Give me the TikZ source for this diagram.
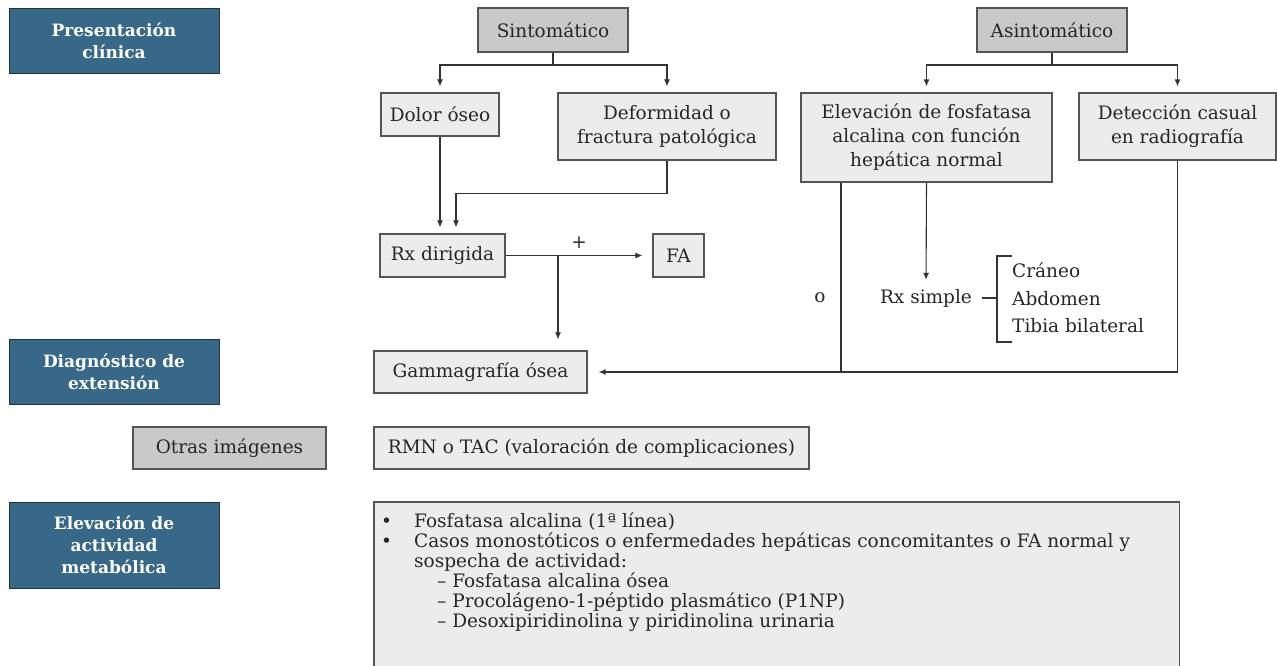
\documentclass[tikz,border=0pt]{standalone}
\usepackage{fontspec}
\setmainfont{DejaVu Serif}
\usetikzlibrary{arrows.meta, positioning}

\definecolor{labblue}{HTML}{386887}
\definecolor{labedge}{HTML}{22323C}
\definecolor{boxfill}{HTML}{EBECEB}
\definecolor{hdrfill}{HTML}{C9C9C9}
\definecolor{edgegray}{HTML}{555555}
\definecolor{linegray}{HTML}{333333}

\begin{document}
\begin{tikzpicture}[x=1pt, y=-1pt,
  lab/.style={rectangle, draw=labedge, fill=labblue, text=white, line width=1pt, minimum width=210pt, inner sep=0pt, align=center, font=\fontsize{17}{22}\selectfont\bfseries},
  box/.style={rectangle, draw=edgegray, fill=boxfill, line width=1.2pt, inner sep=0pt, align=center, text=black!85, font=\fontsize{18.5}{24}\selectfont},
  hdr/.style={box, fill=hdrfill},
  plain/.style={inner sep=0pt, text=black!85, font=\fontsize{18.5}{24}\selectfont},
  arrow/.style={-{Latex[length=7pt,width=6pt]}, draw=linegray, line width=1.1pt, shorten >=6pt},
  link/.style={draw=linegray, line width=1.1pt}
]
\useasboundingbox (0,0) rectangle (1277,665);

% Row labels (left column)
\node[lab, minimum height=65pt] (pres) at (114,40.5) {Presentación\\clínica};
\node[lab, minimum height=65pt] (diag) at (114,371.5) {Diagnóstico de\\extensión};
\node[lab, minimum height=86pt] (metab) at (114,545) {Elevación de\\actividad\\metabólica};
\node[hdr, minimum width=193pt, minimum height=42pt] (otras) at (229.5,448) {Otras imágenes};

% Sintomatico branch
\node[hdr, minimum width=150pt, minimum height=44pt] (sint) at (553,30) {Sintomático};
\node[box, minimum width=118pt, minimum height=43pt] (dolor) at (440,114.5) {Dolor óseo};
\node[box, minimum width=218pt, minimum height=67pt] (deform) at (667,126.5) {Deformidad o\\fractura patológica};
\node[box, minimum width=125pt, minimum height=43pt] (rx) at (442.5,255.5) {Rx dirigida};
\node[box, minimum width=51pt, minimum height=43pt] (fa) at (678.5,255.5) {FA};

% Asintomatico branch
\node[hdr, minimum width=150pt, minimum height=44pt] (asint) at (1052,30) {Asintomático};
\node[box, minimum width=251pt, minimum height=89pt] (elev) at (926.5,137.5) {Elevación de fosfatasa\\alcalina con función\\hepática normal};
\node[box, minimum width=197pt, minimum height=67pt] (detec) at (1177.5,126.5) {Detección casual\\en radiografía};
\node[plain] (rxs) at (926,298) {Rx simple};
\node[plain] (or) at (820,298) {o};
\node[plain, anchor=west, align=left, font=\fontsize{18.5}{27.5}\selectfont] (parts) at (1012,298) {Cráneo\\Abdomen\\Tibia bilateral};

% Extension and other images
\node[box, minimum width=213pt, minimum height=42pt] (gamma) at (480.5,372) {Gammagrafía ósea};
\node[box, minimum width=435pt, minimum height=42pt] (rmn) at (591.5,448) {RMN o TAC (valoración de complicaciones)};

% Metabolic activity list
\node[box, draw=none, anchor=north west, minimum width=804pt, minimum height=163pt] (lstbox) at (374,502) {};
\draw[draw=edgegray, line width=1.2pt] (lstbox.south west) |- (lstbox.north east) -- (lstbox.south east);
\node[plain, anchor=north west, align=left, font=\fontsize{18.5}{20}\selectfont] (lst) at (381,512) {%
\makebox[33pt][l]{•}Fosfatasa alcalina (1ª línea)\\
\makebox[33pt][l]{•}Casos monostóticos o enfermedades hepáticas concomitantes o FA normal y\\
\hspace*{33pt}sospecha de actividad:\\
\hspace*{56pt}– Fosfatasa alcalina ósea\\
\hspace*{56pt}– Procolágeno-1-péptido plasmático (P1NP)\\
\hspace*{56pt}– Desoxipiridinolina y piridinolina urinaria};

% Arrows - sintomatico
\coordinate (sj) at (553,65);
\draw[link] (sint.south) -- (sj);
\draw[arrow] (sj) -| (dolor.north);
\draw[arrow] (sj) -| (deform.north);
\draw[arrow] (dolor.south) -- (dolor.south |- rx.north);
\draw[arrow] (deform.south) -- ++(0,33) -| ([xshift=13.5pt]rx.north);
\draw[arrow, shorten >=10pt] (rx.east) -- (fa.west) node[midway, above=6pt, plain] {+};
\coordinate (rj) at (558,255.5);
\draw[arrow, shorten >=11pt] (rj) -- (rj |- gamma.north);

% Arrows - asintomatico
\coordinate (aj) at (1052,65);
\draw[link] (asint.south) -- (aj);
\draw[arrow] (aj) -| (elev.north);
\draw[arrow] (aj) -| (detec.north);
\draw[arrow, shorten >=9pt] (elev.south) -- (rxs.north);
\draw[link] ([xshift=-85.5pt]elev.south) -- ++(0,190);
\draw[arrow, shorten >=11pt] (detec.south) |- (gamma.east);

% Rx simple bracket
\coordinate (brk) at (997,298);
\draw[link] ([xshift=10pt]rxs.east) -- (brk);
\draw[link] (brk) ++(15,-42) -- ++(-15,0) -- ++(0,86) -- ++(15,0);

\end{tikzpicture}
\end{document}
